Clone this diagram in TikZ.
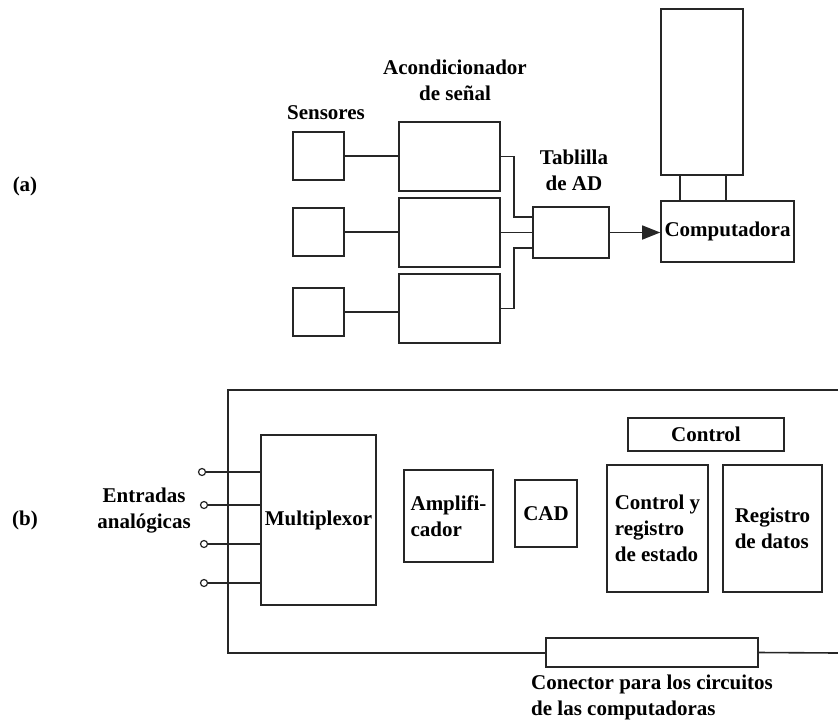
\documentclass[tikz,border=0pt]{standalone}
\usepackage{fontspec}
\setmainfont{Liberation Serif}
\usetikzlibrary{arrows.meta,calc}
\begin{document}
\begin{tikzpicture}[x=1pt,y=-1pt,
  every node/.style={font=\fontsize{21}{26}\selectfont\bfseries, inner sep=2pt},
  line/.style={draw=black!85, line width=1.6pt},
  blk/.style={line, rectangle, align=left},
  lbl/.style={align=center},
  port/.style={circle, draw=black!85, line width=1.2pt, fill=white, inner sep=0pt, minimum size=7pt}]
\useasboundingbox (0,0) rectangle (838,721);

% ---------- (a) ----------
\node (la) at (25,186) {(a)};
\node (lsens) at (326,113) {Sensores};
\node[lbl] (lacond) at (455,80) {Acondicionador\\de señal};
\node[lbl] (ltab) at (574,170) {Tablilla\\de AD};

\node[blk, minimum width=51pt, minimum height=48pt] (s1) at (318.5,156) {};
\node[blk, minimum width=51pt, minimum height=48pt] (s2) at (318.5,232) {};
\node[blk, minimum width=51pt, minimum height=48pt] (s3) at (318.5,312) {};

\node[blk, minimum width=101pt, minimum height=69pt] (c1) at (449.5,156.5) {};
\node[blk, minimum width=101pt, minimum height=69pt] (c2) at (449.5,232.5) {};
\node[blk, minimum width=101pt, minimum height=69pt] (c3) at (449.5,308.5) {};

\node[blk, minimum width=76pt, minimum height=51pt] (ad) at (571,232.5) {};
\node[blk, minimum width=133pt, minimum height=61pt] (comp) at (727.5,231.5) {Computadora};
\node[blk, minimum width=82pt, minimum height=166pt] (mon) at (702,92) {};

\coordinate (j1) at (514,217);
\coordinate (j3) at (514,248);

\draw[line] (s1.east) -- (s1.east -| c1.west);
\draw[line] (s2.east) -- (s2.east -| c2.west);
\draw[line] (s3.east) -- (s3.east -| c3.west);
\draw[line] (c1.east) -| (j1) -- (j1 -| ad.west);
\draw[line] (c2.east) -- (c2.east -| ad.west);
\draw[line] (c3.east) -| (j3) -- (j3 -| ad.west);
\draw[line, -{Triangle[length=18pt,width=14pt]}] (ad.east) -- (ad.east -| comp.west);
\draw[line] ([xshift=-22pt]mon.south) -- ([xshift=-22pt]mon.south |- comp.north);
\draw[line] ([xshift=24pt]mon.south) -- ([xshift=24pt]mon.south |- comp.north);

% ---------- (b) ----------
\node (lb) at (25,520) {(b)};
\node[lbl] (lent) at (144,511) {Entradas\\analógicas};

\coordinate (btr) at (838,390);
\coordinate (btl) at (228,390);
\coordinate (bbl) at (228,653);
\coordinate (bbr) at (838,653);
\node[blk, minimum width=212pt, minimum height=29pt] (conn) at (652,652.5) {};
\draw[line] (btr) -- (btl) -- (bbl) -- (bbl -| conn.west);
\draw[line] (conn.east) -- (bbr);
\node[anchor=west, align=left] (lconn) at (529,697) {Conector para los circuitos\\de las computadoras};

\node[blk, minimum width=115pt, minimum height=170pt] (mux) at (318.5,520) {Multiplexor};
\node[blk, minimum width=89pt, minimum height=92pt] (amp) at (448.5,516) {Amplifi-\\cador};
\node[blk, minimum width=62pt, minimum height=67pt] (cad) at (546,513.5) {CAD};
\node[blk, minimum width=156pt, minimum height=33pt] (ctl) at (706,434.5) {Control};
\node[blk, minimum width=101pt, minimum height=127pt] (cre) at (657.5,528.5) {Control y\\registro\\de estado};
\node[blk, minimum width=99pt, minimum height=127pt] (rd) at (772.5,528.5) {Registro\\de datos};

\node[port] (i1) at (202,472) {};
\node[port] (i2) at (204,505) {};
\node[port] (i3) at (204,544) {};
\node[port] (i4) at (204,583) {};
\draw[line] (i1) -- (i1 -| mux.west);
\draw[line] (i2) -- (i2 -| mux.west);
\draw[line] (i3) -- (i3 -| mux.west);
\draw[line] (i4) -- (i4 -| mux.west);
\end{tikzpicture}
\end{document}
